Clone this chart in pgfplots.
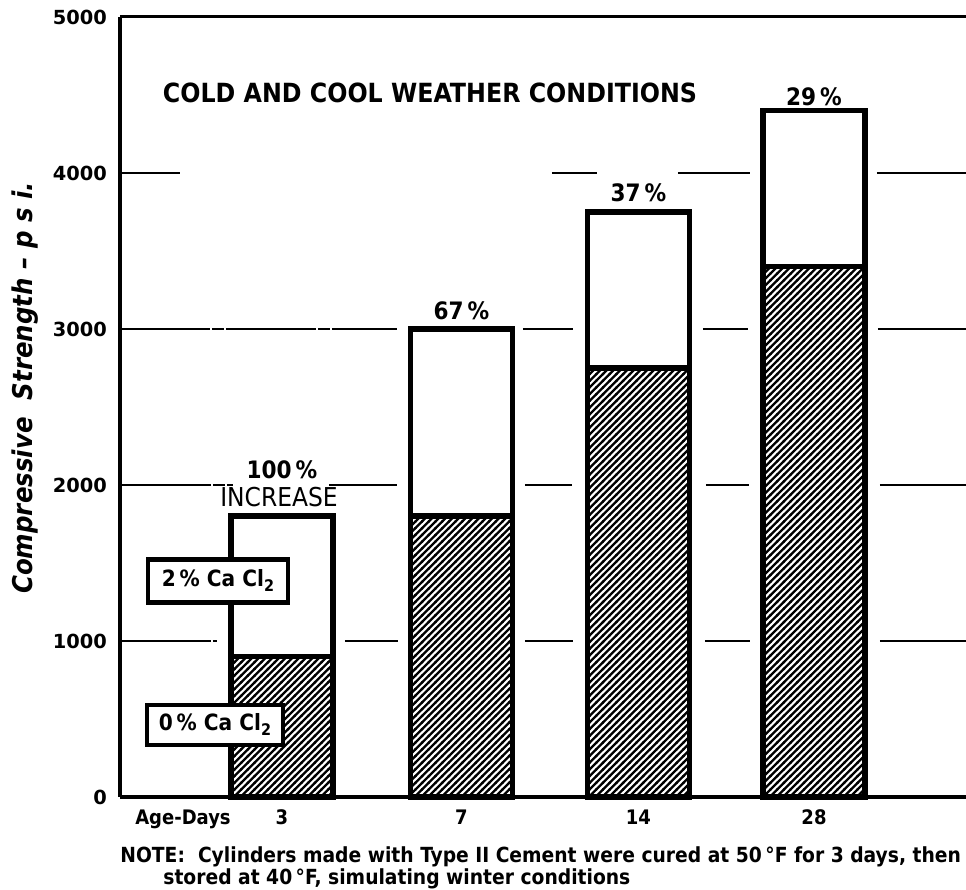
\documentclass[border=0pt]{standalone}
\usepackage{fontspec}
\setmainfont{DejaVu Sans Condensed}
\newfontfamily\widefont{DejaVu Sans}
\usepackage{pgfplots}
\pgfplotsset{compat=1.18}
\usetikzlibrary{patterns}
\pgfdeclarepatternformonly{hatch}{\pgfqpoint{-1pt}{-1pt}}{\pgfqpoint{4.35pt}{4.35pt}}{\pgfqpoint{3.35pt}{3.35pt}}{%
  \pgfsetlinewidth{1.15pt}%
  \pgfpathmoveto{\pgfqpoint{-0.3pt}{-0.3pt}}%
  \pgfpathlineto{\pgfqpoint{3.65pt}{3.65pt}}%
  \pgfusepath{stroke}}

\begin{document}
\begin{tikzpicture}
\useasboundingbox (-60pt,-46.5pt) rectangle (423pt,398.5pt);
\begin{axis}[
  at={(0,0)}, anchor=south west,
  scale only axis, width=423pt, height=390pt,
  xmin=120, xmax=966, ymin=0, ymax=5000,
  axis x line*=bottom, axis y line*=left,
  axis line style={line width=1.8pt},
  ybar stacked, bar width=102,
  xtick={183,282,461.5,638.5,814},
  xticklabels={Age-Days,3,7,14,28},
  ytick={0,1000,2000,3000,4000,5000},
  major tick length=0pt,
  xticklabel style={font=\bfseries\fontsize{10}{12}\selectfont, yshift=-3pt},
  yticklabel style={font=\widefont\bfseries\fontsize{9.7}{11}\selectfont, xshift=-3pt},
  scaled y ticks=false,
  /pgf/number format/assume math mode=true,
  /pgf/number format/1000 sep={},
  clip=false,
]
% grid segments
\draw[line width=1.2pt, dash pattern={on 45pt off 1pt on 6pt off 1pt}]
  (axis cs:121,1000) -- (axis cs:217,1000)
  (axis cs:345,1000) -- (axis cs:398,1000)
  (axis cs:525,1000) -- (axis cs:573,1000)
  (axis cs:705,1000) -- (axis cs:750,1000)
  (axis cs:880,1000) -- (axis cs:966,1000)
  (axis cs:121,2000) -- (axis cs:233,2000)
  (axis cs:329,2000) -- (axis cs:397,2000)
  (axis cs:525,2000) -- (axis cs:572,2000)
  (axis cs:706,2000) -- (axis cs:749,2000)
  (axis cs:880,2000) -- (axis cs:966,2000)
  (axis cs:120,3000) -- (axis cs:397,3000)
  (axis cs:523,3000) -- (axis cs:573,3000)
  (axis cs:703,3000) -- (axis cs:748,3000)
  (axis cs:878,3000) -- (axis cs:966,3000)
  (axis cs:120,4000) -- (axis cs:180,4000)
  (axis cs:552,4000) -- (axis cs:597,4000)
  (axis cs:678,4000) -- (axis cs:750,4000)
  (axis cs:877,4000) -- (axis cs:966,4000);
\draw[line width=1.5pt] (axis cs:120,5000) -- (axis cs:966,5000);

% 0% CaCl2
\addplot[draw=black, line width=2.8pt, pattern=hatch, pattern color=black]
  coordinates {(282,900) (461.5,1800) (638.5,2750) (814,3400)};
% increase with 2% CaCl2
\addplot[draw=black, line width=2.8pt, fill=white]
  coordinates {(282,900) (461.5,1200) (638.5,1000) (814,1000)};

\node[font=\bfseries\fontsize{13.2}{15}\selectfont] at (axis cs:430,4513) {COLD AND COOL WEATHER CONDITIONS};

\node[font=\bfseries\fontsize{12}{14}\selectfont] at (axis cs:282,2096) {100\,\%};
\node[font=\fontsize{13}{15}\selectfont] at (axis cs:279,1923) {INCREASE};
\node[font=\bfseries\fontsize{12}{14}\selectfont] at (axis cs:461.5,3115) {67\,\%};
\node[font=\bfseries\fontsize{12}{14}\selectfont] at (axis cs:638.5,3872) {37\,\%};
\node[font=\bfseries\fontsize{12}{14}\selectfont] at (axis cs:814,4487) {29\,\%};

\coordinate (boxA) at (axis cs:218,1385);
\coordinate (boxB) at (axis cs:215,462);

\node[rotate=90, anchor=base, font=\bfseries\itshape\fontsize{13.6}{15}\selectfont]
  at (axis cs:33,2622) {Compressive\ \ Strength -- p s i.};

\node[anchor=base west, inner sep=0pt, font=\bfseries\fontsize{10.4}{12}\selectfont] at (axis cs:120,-420)
  {NOTE:\ \ Cylinders made with Type II Cement were cured at 50\,°F for 3 days, then};
\node[anchor=base west, inner sep=0pt, font=\bfseries\fontsize{10.4}{12}\selectfont] at (axis cs:163,-560)
  {stored at 40\,°F, simulating winter conditions};
\end{axis}
\node[draw, line width=2.2pt, fill=white, minimum width=70pt, minimum height=21.5pt, inner sep=0pt,
  font=\bfseries\fontsize{11.2}{13}\selectfont] at (boxA) {2\,\% Ca Cl\raisebox{-0.4ex}{\fontsize{8}{9}\selectfont 2}};
\node[draw, line width=2.2pt, fill=white, minimum width=68pt, minimum height=20pt, inner sep=0pt,
  font=\bfseries\fontsize{11.2}{13}\selectfont] at (boxB) {0\,\% Ca Cl\raisebox{-0.4ex}{\fontsize{8}{9}\selectfont 2}};
\end{tikzpicture}
\end{document}
